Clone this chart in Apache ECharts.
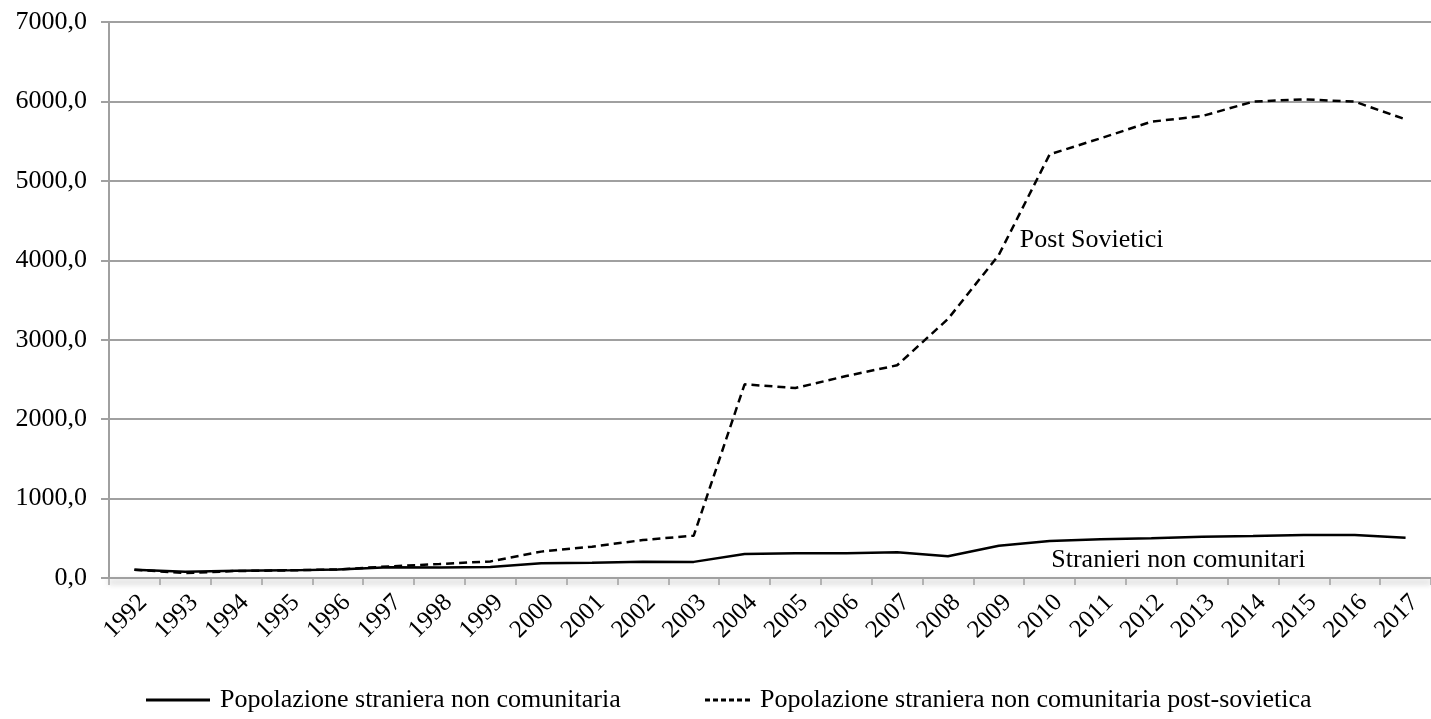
<!DOCTYPE html>
<html>
<head>
<meta charset="utf-8">
<script src="https://cdn.jsdelivr.net/npm/echarts@6/dist/echarts.min.js"></script>
<style>
html,body{margin:0;padding:0;background:#fff;}
#chart{width:1431px;height:719px;}
</style>
</head>
<body>
<div id="chart"></div>
<script>
const years = ['1992','1993','1994','1995','1996','1997','1998','1999','2000','2001','2002','2003','2004','2005','2006','2007','2008','2009','2010','2011','2012','2013','2014','2015','2016','2017'];
const nonComunitaria = [104,80,90,96,108,134,132,140,186,193,205,203,302,311,311,325,273,407,466,487,499,520,529,541,541,507];
const postSovietica = [104,63,88,96,108,146,176,209,332,394,478,533,2438,2392,2543,2678,3261,4067,5334,5535,5745,5816,5997,6027,5997,5774];
const seriesNames = ['Popolazione straniera non comunitaria','Popolazione straniera non comunitaria post-sovietica'];
const yTicks = [0,1000,2000,3000,4000,5000,6000,7000];
const annPost = {text:'Post Sovietici', year:'2009', value:4250};
const annStranieri = {text:'Stranieri non comunitari', year:'2012', value:225};

const FONT = '"Liberation Serif", "Times New Roman", serif';
const legendText = {fontFamily:FONT, fontSize:26, color:'#000', padding:[0,0,0,5]};
const chart = echarts.init(document.getElementById('chart'));
chart.setOption({
  animation:false,
  backgroundColor:'#fff',
  grid:{left:109, right:-10, top:22, bottom:141, containLabel:false},
  legend:[
    {
      top:682, left:141, itemWidth:64, itemHeight:3,
      textStyle:legendText,
      data:[{name:seriesNames[0], icon:'path://M0,0H64V3H0Z', itemStyle:{color:'#000'}}]
    },
    {
      top:682, left:700, itemWidth:45, itemHeight:3,
      textStyle:legendText,
      data:[{name:seriesNames[1], icon:'path://M0,0H5V3H0Z M8,0H13V3H8Z M16,0H21V3H16Z M24,0H29V3H24Z M32,0H37V3H32Z M40,0H45V3H40Z', itemStyle:{color:'#000'}}]
    }
  ],
  xAxis:{
    type:'category', data:years, boundaryGap:true,
    axisLine:{lineStyle:{color:'#a0a0a0', width:2, shadowColor:'rgba(0,0,0,0.35)', shadowBlur:6, shadowOffsetY:4}},
    axisTick:{show:true, length:7, inside:false, lineStyle:{color:'#a0a0a0', width:1.5}},
    axisLabel:{rotate:45, verticalAlign:'top', fontFamily:FONT, fontSize:25, color:'#000', margin:12}
  },
  yAxis:{
    type:'value', min:yTicks[0], max:yTicks[yTicks.length-1], interval:1000,
    axisLine:{show:true, lineStyle:{color:'#a0a0a0', width:2}},
    axisTick:{show:true, length:8, lineStyle:{color:'#a0a0a0', width:2}},
    splitLine:{lineStyle:{color:'#a0a0a0', width:2}},
    axisLabel:{fontFamily:FONT, fontSize:26, color:'#000', margin:22,
      formatter:v => v.toFixed(1).replace('.', ',')}
  },
  series:[
    {
      name:seriesNames[0], type:'line', data:nonComunitaria,
      symbol:'none', lineStyle:{color:'#000', width:2.5, type:'solid'},
      itemStyle:{color:'#000'}, z:3,
      markPoint:{
        symbol:'circle', symbolSize:0,
        label:{show:true, formatter:annStranieri.text, position:'inside', offset:[27,0], fontFamily:FONT, fontSize:26, color:'#000'},
        data:[{coord:[annStranieri.year, annStranieri.value]}]
      }
    },
    {
      name:seriesNames[1], type:'line', data:postSovietica,
      symbol:'none', lineStyle:{color:'#000', width:2.5, type:[8,5]},
      itemStyle:{color:'#000'}, z:2,
      markPoint:{
        symbol:'circle', symbolSize:0,
        label:{show:true, formatter:annPost.text, position:'right', distance:21, fontFamily:FONT, fontSize:26, color:'#000'},
        data:[{coord:[annPost.year, annPost.value]}]
      }
    }
  ]
});
</script>
</body>
</html>
